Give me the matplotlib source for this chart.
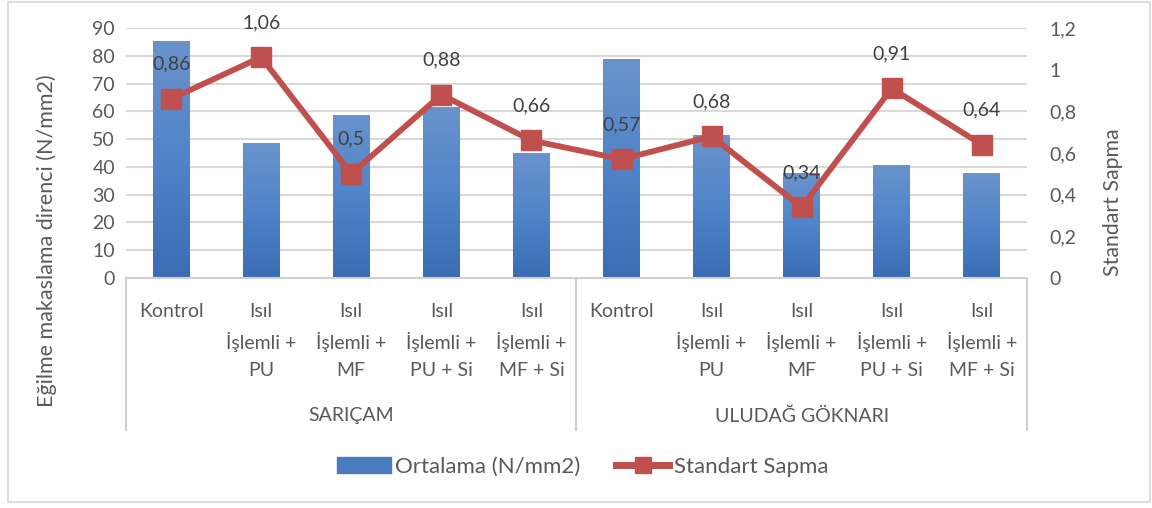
import matplotlib
matplotlib.use("Agg")
import matplotlib.pyplot as plt
import numpy as np
from matplotlib.colors import LinearSegmentedColormap
from matplotlib.patches import Rectangle
from matplotlib.lines import Line2D
from matplotlib.ticker import FuncFormatter

plt.rcParams['font.family'] = ['Lato', 'DejaVu Sans']

### Données
groupes = ['SARIÇAM', 'ULUDAĞ GÖKNARI']
categories = ['Kontrol', 'Isıl\nİşlemli +\nPU', 'Isıl\nİşlemli +\nMF',
              'Isıl\nİşlemli +\nPU + Si', 'Isıl\nİşlemli +\nMF + Si'] * 2
ortalama = [85.3, 48.6, 58.7, 61.4, 45.0, 78.8, 51.5, 37.7, 40.7, 37.8]
std_sapma = [0.86, 1.06, 0.5, 0.88, 0.66, 0.57, 0.68, 0.34, 0.91, 0.64]
std_etiket = ['0,86', '1,06', '0,5', '0,88', '0,66', '0,57', '0,68', '0,34', '0,91', '0,64']

GRIS = '#595959'
BLEU = '#4a7dc0'
ROUGE = '#c0504d'
FS = 14

fig = plt.figure(figsize=(11.52, 5.08), dpi=100)
ax = fig.add_axes([0.1094, 0.4528, 0.782, 0.4921])
ax2 = ax.twinx()

x = np.arange(len(ortalama))

### Barres avec dégradé
bars = ax.bar(x, ortalama, width=0.41, color='none', zorder=2)
cmap = LinearSegmentedColormap.from_list('bleu', ['#3a6db3', '#4f84c9', '#6a93cc'])
grad = np.linspace(0, 1, 256).reshape(-1, 1)
for b in bars:
    x0, w, h = b.get_x(), b.get_width(), b.get_height()
    im = ax.imshow(grad, extent=[x0, x0 + w, 0, h], origin='lower', aspect='auto',
                   cmap=cmap, zorder=2)
    im.set_clip_path(b)

ax.set_xlim(-0.5, 9.5)
ax.set_ylim(0, 90)
ax.set_yticks(np.arange(0, 91, 10))
ax.grid(axis='y', color='#d9d9d9', linewidth=1.5, zorder=0)
ax.set_axisbelow(True)
ax.set_xticks([])
for s in ['top', 'left', 'right']:
    ax.spines[s].set_visible(False)
ax.spines['bottom'].set_color('#d0d0d0')
ax.spines['bottom'].set_linewidth(1.5)
ax.tick_params(axis='y', length=0, labelsize=FS, colors=GRIS, pad=8)
ax.set_ylabel('Eğilme makaslama direnci (N/mm2)', fontsize=15.5, color=GRIS)
ax.yaxis.set_label_coords(-0.0766, 0.148)

### Ligne écart-type
ax2.plot(x, std_sapma, color=ROUGE, linewidth=4.2, marker='s', markersize=14, zorder=3)
for xi, v, t in zip(x, std_sapma, std_etiket):
    ax2.annotate(t, (xi, v), xytext=(0, 25), textcoords='offset points',
                 ha='center', va='center', fontsize=FS, color='#404040')
ax2.set_ylim(0, 1.2)
ax2.set_yticks(np.arange(0, 1.21, 0.2))
ax2.yaxis.set_major_formatter(FuncFormatter(lambda v, p: ('%g' % round(v, 1)).replace('.', ',')))
for s in ax2.spines.values():
    s.set_visible(False)
ax2.tick_params(axis='y', length=0, labelsize=FS, colors=GRIS, pad=16)
ax2.set_ylabel('Standart Sapma', fontsize=15.3, color=GRIS)
ax2.yaxis.set_label_coords(1.084, 0.304)

### Axe des catégories à deux niveaux
for xi, c in zip(x, categories):
    ax.text(xi, -0.1, c, transform=ax.get_xaxis_transform(), ha='center', va='top',
            fontsize=FS, color=GRIS, linespacing=1.7)
for gi, g in enumerate(groupes):
    ax.text(2 + 5 * gi, -0.552, g, transform=ax.get_xaxis_transform(), ha='center',
            va='center', fontsize=FS, color=GRIS)
for xs in [-0.5, 4.5, 9.5]:
    ax.add_line(Line2D([xs, xs], [0, -0.61], transform=ax.get_xaxis_transform(),
                       color='#d0d0d0', linewidth=1.5, clip_on=False))

### Légende
h1 = Rectangle((0, 0), 1, 1, color=BLEU)
h2 = Line2D([], [], color=ROUGE, linewidth=5, marker='s', markersize=11)
fig.legend([h1, h2], ['Ortalama (N/mm2)', 'Standart Sapma'], loc='center',
           bbox_to_anchor=(0.506, 1 - 467 / 508), ncol=2, frameon=False, fontsize=16,
           labelcolor=GRIS, handlelength=2.4, handletextpad=0.2, columnspacing=1.6)

fig.patches.append(Rectangle((0.007, 0.012), 0.991, 0.985, transform=fig.transFigure,
                             fill=False, edgecolor='#d9d9d9', linewidth=1.2))

fig.savefig('out.png', dpi=100)
